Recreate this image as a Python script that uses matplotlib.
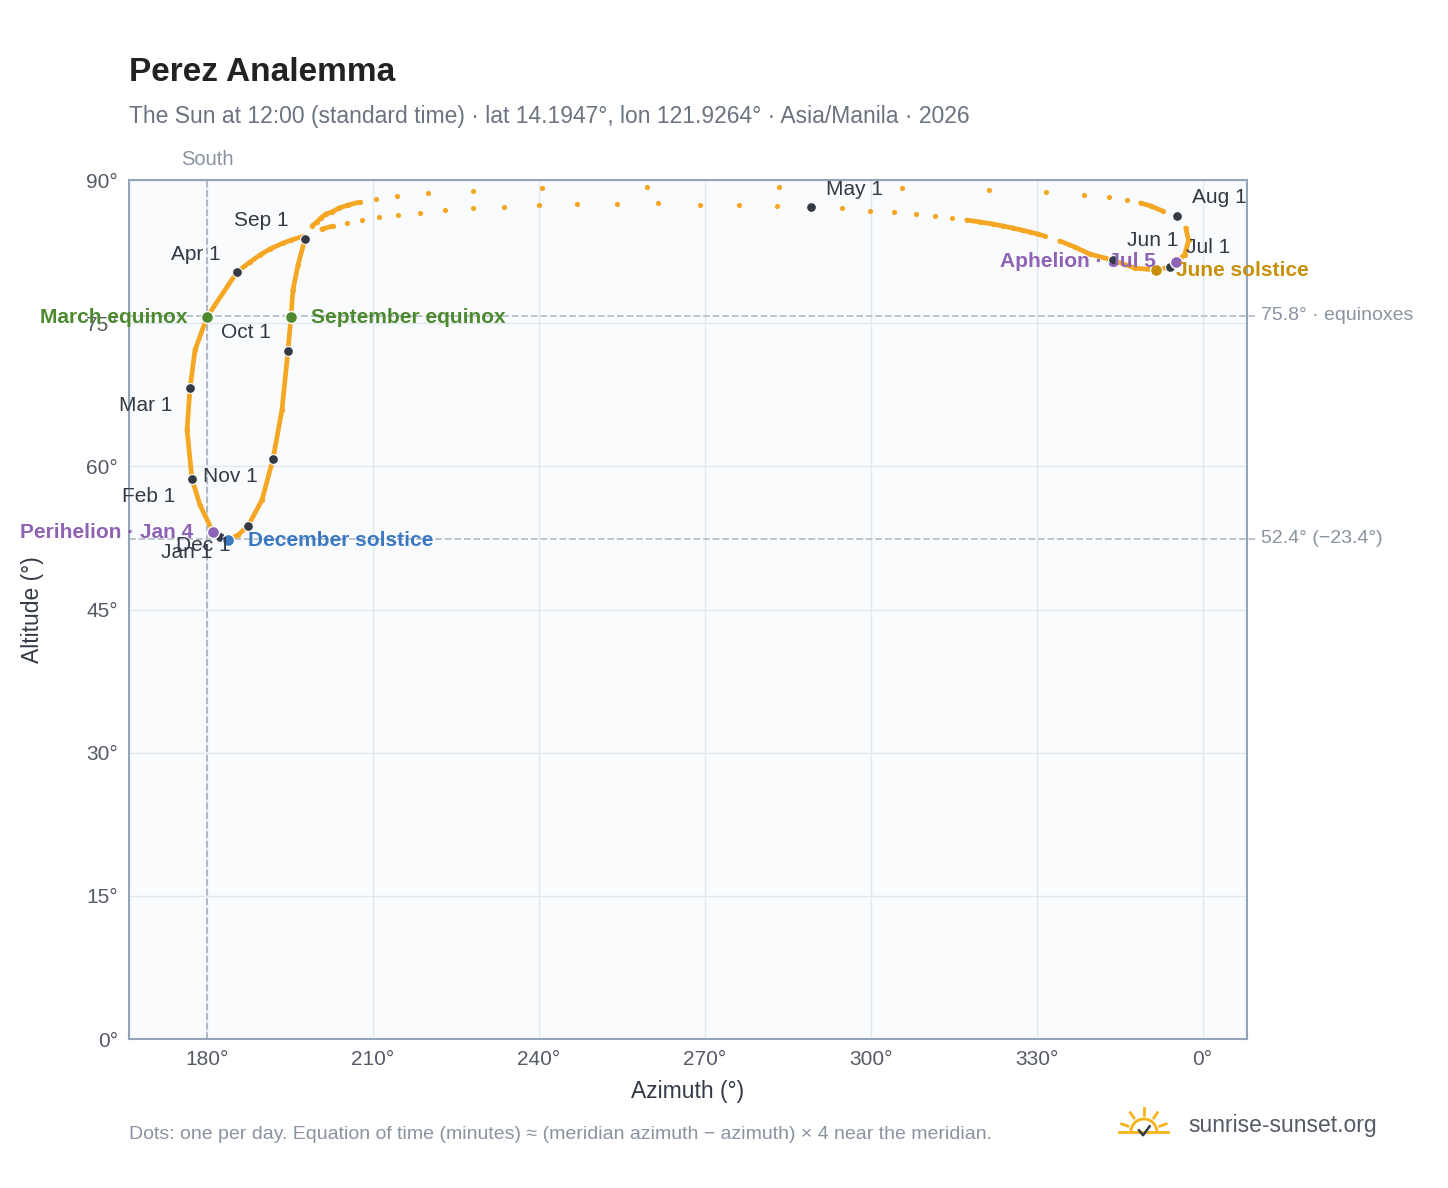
import numpy as np
import matplotlib.pyplot as plt
from matplotlib.patches import Arc

plt.rcParams['font.family'] = ['Liberation Sans', 'DejaVu Sans']

# noon sun path (azimuth deg, altitude deg), Jan 1 -> Dec solstice
azimuth = [182.35, 181.08, 178.73, 177.29, 176.39, 176.93, 177.83, 180.0, 185.42, 187.77,
           189.58, 191.39, 193.73, 195.18, 197.53, 200.78, 202.77, 205.30, 208.01, 211.08,
           214.52, 218.49, 223.01, 228.07, 233.67, 240.0, 246.87, 254.10, 261.51, 269.10,
           276.23, 283.01, 289.16, 294.76, 299.82, 304.15, 308.13, 311.57, 314.64, 317.35,
           319.70, 322.05, 323.85, 325.66, 327.29, 328.73, 330.18, 331.44, 334.16, 336.87,
           339.58, 343.73, 347.71, 351.50, 354.03, 355.12, 356.74, 357.47, 356.93, 355.30,
           352.77, 350.60, 348.79, 346.26, 343.01, 338.49, 331.62, 321.32, 305.60, 283.37,
           259.52, 240.54, 228.07, 219.94, 214.34, 210.54, 207.65, 205.48, 203.86, 202.59,
           201.51, 200.60, 199.88, 198.98, 197.71, 196.45, 195.54, 195.18, 194.64, 193.55,
           191.93, 189.94, 187.41, 185.60, 183.80, 182.35]
altitude = [52.60, 53.12, 55.95, 58.67, 63.81, 68.21, 72.19, 75.65, 80.37, 81.41,
            82.15, 82.78, 83.40, 83.71, 84.13, 84.87, 85.19, 85.50, 85.82, 86.13,
            86.34, 86.55, 86.86, 87.07, 87.18, 87.39, 87.50, 87.50, 87.60, 87.39,
            87.39, 87.29, 87.18, 87.07, 86.76, 86.66, 86.45, 86.24, 86.03, 85.82,
            85.61, 85.40, 85.19, 84.98, 84.77, 84.56, 84.35, 84.14, 83.62, 82.99,
            82.26, 81.62, 80.79, 80.57, 80.89, 81.42, 82.15, 83.72, 84.98, 86.23,
            86.76, 87.29, 87.60, 87.91, 88.23, 88.43, 88.75, 88.96, 89.17, 89.27,
            89.27, 89.17, 88.85, 88.64, 88.33, 88.02, 87.70, 87.39, 87.07, 86.66,
            86.45, 86.03, 85.61, 85.19, 83.82, 81.10, 78.48, 75.65, 72.09, 65.91,
            60.77, 56.48, 53.75, 52.81, 52.28, 52.60]

month_names = ["Jan 1", "Feb 1", "Mar 1", "Apr 1", "May 1", "Jun 1", "Jul 1", "Aug 1",
               "Sep 1", "Oct 1", "Nov 1", "Dec 1"]
month_az = [182.35, 177.29, 176.93, 185.42, 289.16, 343.73, 354.03, 355.30, 197.71, 194.64, 191.93, 187.41]
month_alt = [52.60, 58.67, 68.21, 80.37, 87.18, 81.62, 80.89, 86.23, 83.82, 72.09, 60.77, 53.75]
month_off = [(-33, -15), (-43, -17), (-44, -17), (-41, 18), (44, 18), (40, 20), (39, 20),
             (43, 19), (-44, 19), (-42, 19), (-43, -17), (-45, -19)]

events = ["March equinox", "September equinox", "Perihelion · Jan 4", "December solstice",
          "Aphelion · Jul 5", "June solstice"]
event_az = [180.0, 195.18, 181.08, 183.80, 355.12, 351.50]
event_alt = [75.65, 75.65, 53.12, 52.28, 81.42, 80.57]
event_col = ["#4d8a2f", "#4d8a2f", "#8e62b5", "#3a78c2", "#8e62b5", "#c8900a"]
event_side = [-1, 1, -1, 1, -1, 1]

ref_alt = [75.8, 52.4]
ref_lab = ["75.8° · equinoxes", "52.4° (−23.4°)"]

xticks = [180, 210, 240, 270, 300, 330, 360]
xtick_labels = ["180°", "210°", "240°", "270°", "300°", "330°", "0°"]
yticks = [0, 15, 30, 45, 60, 75, 90]

orange = "#f5a623"
dark = "#333a45"
gray = "#94a3b8"

fig = plt.figure(figsize=(14.48, 11.88), dpi=100)
ax = fig.add_axes([0.0891, 0.1254, 0.772, 0.723])
ax.set_facecolor("#f9fbfd")
ax.set_xlim(165.9, 368.0)
ax.set_ylim(0, 90)
ax.set_xticks(xticks, xtick_labels)
ax.set_yticks(yticks, [f"{v}°" for v in yticks])
ax.grid(color="#e3e8ee", linewidth=1)
ax.set_axisbelow(True)
for s in ax.spines.values():
    s.set_color(gray)
    s.set_linewidth(1.5)
ax.tick_params(colors="#555b66", labelsize=15, length=0, pad=8)
ax.set_xlabel("Azimuth (°)", fontsize=16.5, color="#333a45", labelpad=8)
ax.set_ylabel("Altitude (°)", fontsize=16.5, color="#333a45", labelpad=30)

# dashed reference lines
ax.axvline(180, color="#aab3bf", ls="--", lw=1.3, zorder=1)
ax.text(180, 91.2, "South", ha="center", va="bottom", fontsize=14.5, color="#8a93a0")
for a, lab in zip(ref_alt, ref_lab):
    ax.plot([165.9, 369.5], [a, a], color="#b8c0cb", ls="--", lw=1.3, clip_on=False, zorder=1)
    ax.text(370.5, a, lab, ha="left", va="center", fontsize=14, color="#8a93a0")

# sun path: solid where daily dots overlap, separate dots where sparse
az = np.array(azimuth)
alt = np.array(altitude)
fig.canvas.draw()
pix = ax.transData.transform(np.column_stack([az, alt]))
gap = np.hypot(*np.diff(pix, axis=0).T)
for i in range(len(gap)):
    if gap[i] < 14 or max(alt[i], alt[i + 1]) < 84.0:
        ax.plot(az[i:i + 2], alt[i:i + 2], color=orange, lw=3.4, solid_capstyle="round", zorder=2)
ax.scatter(az, alt, s=14, color=orange, zorder=3, linewidths=0)

ax.scatter(month_az, month_alt, s=50, color=dark, edgecolor="white", linewidth=0.8, zorder=4)
for n, x, y, off in zip(month_names, month_az, month_alt, month_off):
    ax.annotate(n, (x, y), xytext=off, textcoords="offset pixels", ha="center", va="center",
                fontsize=15, color=dark, zorder=6)

for n, x, y, c, sd in zip(events, event_az, event_alt, event_col, event_side):
    ax.scatter([x], [y], s=75, color=c, edgecolor="white", linewidth=1, zorder=5)
    ax.annotate(n, (x, y), xytext=(20 * sd, 0), textcoords="offset pixels",
                ha="left" if sd > 0 else "right", va="center", fontsize=15, fontweight="bold",
                color=c, zorder=6, annotation_clip=False)

fig.text(0.0891, 0.939, "Perez Analemma", fontsize=24, fontweight="bold", color="#222222", va="center")
fig.text(0.0891, 0.902, "The Sun at 12:00 (standard time) · lat 14.1947°, lon 121.9264° · Asia/Manila · 2026",
         fontsize=16.5, color="#6b7280", va="center")
fig.text(0.0891, 0.045, "Dots: one per day. Equation of time (minutes) ≈ (meridian azimuth − azimuth) × 4 near the meridian.",
         fontsize=14, color="#8a93a0", va="center")
fig.text(0.821, 0.053, "sunrise-sunset.org", fontsize=16.5, color="#555b66", va="center")

# small sun logo
lax = fig.add_axes([0.772, 0.038, 0.036, 0.032])
lax.set_xlim(-1.6, 1.6)
lax.set_ylim(-0.6, 1.6)
lax.set_aspect("equal")
lax.axis("off")
lax.add_patch(Arc((0, 0), 1.6, 1.6, theta1=0, theta2=180, color="#f5b31a", lw=2))
for t in np.radians([20, 55, 90, 125, 160]):
    lax.plot([1.05 * np.cos(t), 1.45 * np.cos(t)], [1.05 * np.sin(t), 1.45 * np.sin(t)],
             color="#f5b31a", lw=2)
lax.plot([-1.5, 1.5], [0, 0], color="#f5b31a", lw=2)
lax.plot([-0.3, -0.05, 0.35], [0.1, -0.2, 0.35], color=dark, lw=1.8)

fig.savefig("out.png", dpi=100)
